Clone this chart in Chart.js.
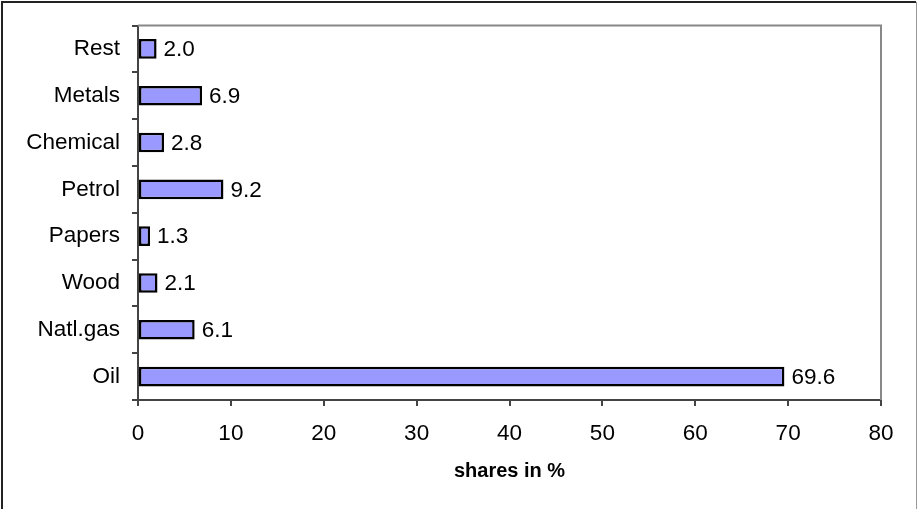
<!DOCTYPE html>
<html>
<head>
<meta charset="utf-8">
<script src="https://cdn.jsdelivr.net/npm/chart.js@4/dist/chart.umd.min.js"></script>
<style>
  html, body { margin: 0; padding: 0; background: #fff; }
  canvas { display: block; }
</style>
</head>
<body>
<canvas id="c" width="918" height="509"></canvas>
<script>
// Sector shares, listed top to bottom
const categories = ['Rest', 'Metals', 'Chemical', 'Petrol', 'Papers', 'Wood', 'Natl.gas', 'Oil'];
const shares = [2.0, 6.9, 2.8, 9.2, 1.3, 2.1, 6.1, 69.6];
const xTicks = [0, 10, 20, 30, 40, 50, 60, 70, 80];
const axisTitle = 'shares in %';

const FONT = 'Arial, "Liberation Sans", sans-serif';

// Frame around the whole picture and the top/right edge of the plot area
const framePlugin = {
  id: 'frames',
  beforeDraw(chart) {
    const { ctx, width, height } = chart;
    ctx.save();
    ctx.fillStyle = '#fff';
    ctx.fillRect(0, 0, width, height);
    ctx.strokeStyle = '#222';
    ctx.lineWidth = 2;
    ctx.beginPath();
    ctx.moveTo(2, height);
    ctx.lineTo(2, 2);
    ctx.lineTo(916, 2);
    ctx.stroke();
    ctx.strokeStyle = '#999';
    ctx.lineWidth = 1;
    ctx.beginPath();
    ctx.moveTo(916.5, 2);
    ctx.lineTo(916.5, height);
    ctx.stroke();
    ctx.restore();
  },
  beforeDatasetsDraw(chart) {
    const { ctx, chartArea: a } = chart;
    ctx.save();
    ctx.strokeStyle = '#888';
    ctx.lineWidth = 2;
    ctx.beginPath();
    ctx.moveTo(a.left, a.top);
    ctx.lineTo(a.right, a.top);
    ctx.lineTo(a.right, a.bottom);
    ctx.stroke();
    ctx.restore();
  }
};

// Value printed just past the end of each bar
const valueLabels = {
  id: 'valueLabels',
  afterDatasetsDraw(chart) {
    const { ctx } = chart;
    const meta = chart.getDatasetMeta(0);
    ctx.save();
    ctx.font = '22.5px ' + FONT;
    ctx.fillStyle = '#000';
    ctx.textAlign = 'left';
    ctx.textBaseline = 'middle';
    meta.data.forEach((bar, i) => {
      ctx.fillText(shares[i].toFixed(1), bar.x + 7, bar.y + 1);
    });
    ctx.restore();
  }
};

new Chart(document.getElementById('c'), {
  type: 'bar',
  data: {
    labels: categories,
    datasets: [{
      data: shares,
      backgroundColor: '#9999FF',
      borderColor: '#000',
      borderWidth: 2.5,
      borderSkipped: false,
      barPercentage: 0.42,
      categoryPercentage: 1.0
    }]
  },
  options: {
    indexAxis: 'y',
    responsive: false,
    animation: false,
    devicePixelRatio: 1,
    layout: { padding: { top: 24, right: 37, bottom: 0, left: 0 } },
    plugins: { legend: { display: false }, tooltip: { enabled: false } },
    scales: {
      x: {
        type: 'linear',
        min: 0,
        max: 80,
        afterBuildTicks(scale) { scale.ticks = xTicks.map(v => ({ value: v })); },
        afterFit(scale) { scale.height = 109; },
        border: { display: true, color: '#444', width: 2 },
        grid: { drawOnChartArea: false, drawTicks: true, tickLength: 6, color: '#444', lineWidth: 2 },
        ticks: { color: '#000', font: { family: FONT, size: 22.5 }, padding: 14, maxRotation: 0 },
        title: {
          display: true,
          text: axisTitle,
          color: '#000',
          font: { family: FONT, size: 20, weight: 'bold' },
          padding: { top: 0, bottom: 26 }
        }
      },
      y: {
        type: 'category',
        afterFit(scale) { scale.width = 138; },
        border: { display: true, color: '#444', width: 2 },
        grid: { offset: true, drawOnChartArea: false, drawTicks: true, tickLength: 6, color: '#444', lineWidth: 2 },
        ticks: { color: '#000', font: { family: FONT, size: 22.5 }, padding: 12 }
      }
    }
  },
  plugins: [framePlugin, valueLabels]
});
</script>
</body>
</html>
